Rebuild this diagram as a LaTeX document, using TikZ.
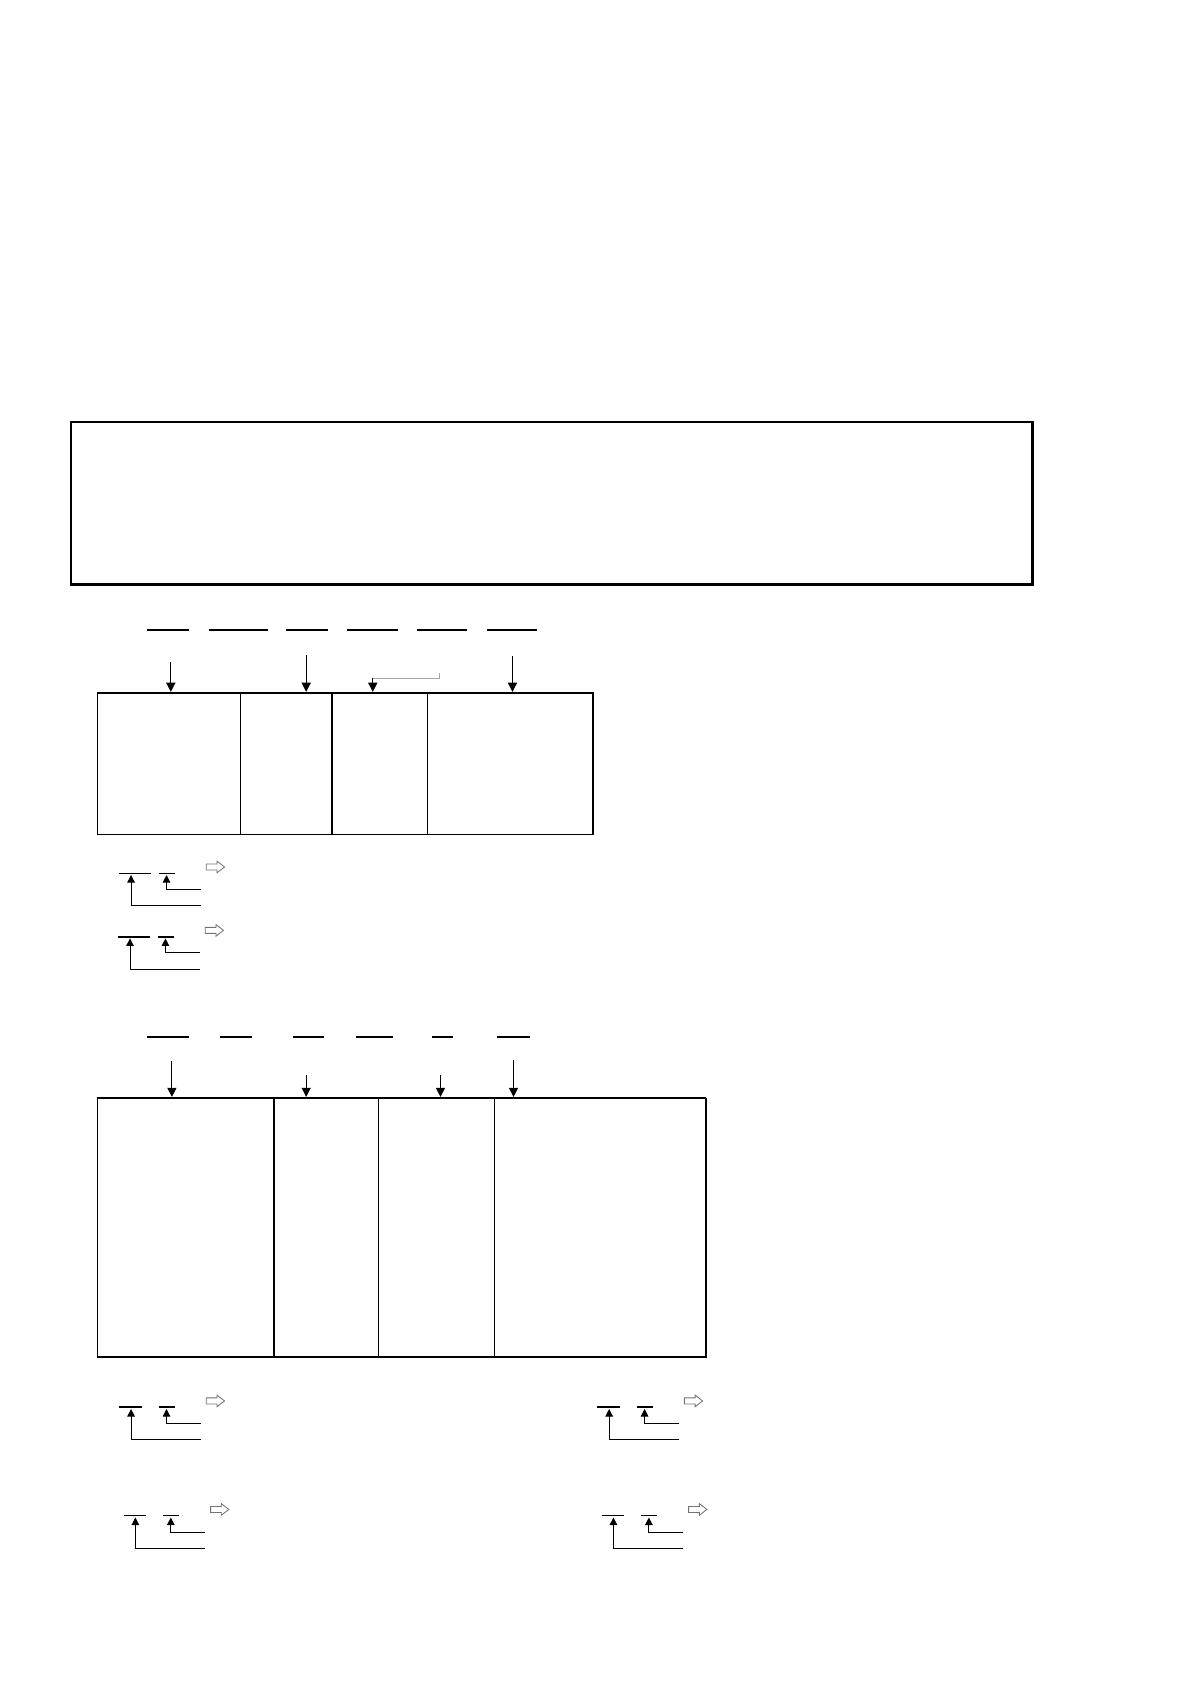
\documentclass[tikz,border=0pt]{standalone}
\usetikzlibrary{arrows.meta}
\newcommand\hollowarrow[2]{%
  \draw[hollowarr] (#1,#2) ++(0,-2.8) -- ++(10,0) -- ++(0,-2.6) -- ++(7,5.4) -- ++(-7,5.4) -- ++(0,-2.6) -- ++(-10,0) -- cycle;}
\newcommand\drawlegend[4]{%
  \draw[line width=#4] (#1-11,#2) -- (#1+#3,#2);
  \draw[line width=#4] (#1+26,#2) -- (#1+41,#2);
  \draw[uparrow] (#1+65,#2+15) -| (#1+33,#2+1.5);
  \draw[uparrow] (#1+65,#2+30) -| (#1,#2+1.5);
  \hollowarrow{#1+70}{#2-6}}
\begin{document}
\begin{tikzpicture}[x=1pt,y=-1pt,
  boxline/.style={line width=1.2pt},
  blankline/.style={line width=1.9pt},
  downarrow/.style={line width=1pt,-{Triangle[width=8.5pt,length=8.5pt]}},
  uparrow/.style={line width=0.9pt,-{Triangle[width=7pt,length=7pt]}},
  hollowarr/.style={draw=black!55,line width=0.8pt,fill=white}]
\useasboundingbox (0,0) rectangle (1108,1567.5);

% top framed box
\draw[line width=2.3pt] (66,393) rectangle (961,544);

% ---- first block ----
\foreach \a/\b in {137/176,195/249,266/305,323/370,388/435,453/500}
  \draw[blankline] (\a,586) -- (\b,586);
\draw[downarrow] (159,616) -- (159,644);
\draw[downarrow] (285,610) -- (285,644);
\draw[line width=1pt,gray!70] (409,626.5) |- (347,631.5);
\draw[downarrow] (347,631) -- (347,644);
\draw[downarrow] (477,611) -- (477,644);
\draw[boxline] (91,645) rectangle (552,777);
\foreach \x in {224,309,398}
  \draw[boxline] (\x,645) -- (\x,777);

\drawlegend{122}{813}{19}{0.9pt}
\drawlegend{121}{872}{19}{1.9pt}

% ---- second block ----
\foreach \a/\b in {137/176,205/235,273/302,331/366,402/422,463/493}
  \draw[blankline] (\a,965) -- (\b,965);
\draw[downarrow] (160,988) -- (160,1021);
\draw[downarrow] (285,1001) -- (285,1021);
\draw[downarrow] (410,1001) -- (410,1021);
\draw[downarrow] (478,987) -- (478,1021);
\draw[boxline] (91,1022) rectangle (657,1263);
\draw[line width=1.9pt] (91,1263) -- (657,1263) -- (657,1022);
\draw[line width=1.6pt] (255,1022) -- (255,1263);
\foreach \x in {352,460}
  \draw[boxline] (\x,1022) -- (\x,1263);

\drawlegend{122}{1310}{10}{1.9pt}
\drawlegend{567}{1310}{10}{1.9pt}
\drawlegend{126}{1411}{10}{0.9pt}
\drawlegend{571}{1411}{10}{0.9pt}
\end{tikzpicture}
\end{document}
